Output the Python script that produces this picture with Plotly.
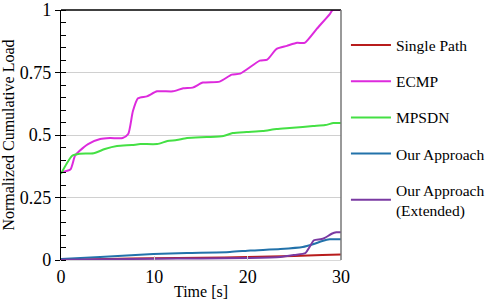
import plotly.graph_objects as go

# Data
single_t = [0, 5, 10, 15, 20, 25, 28, 30]
single_v = [0.0, 0.004, 0.007, 0.009, 0.012, 0.016, 0.02, 0.022]

ecmp_t = [0, 1.0, 1.5, 2.0, 2.9, 4.2, 5.25, 6.6, 7.2, 7.7, 8.25, 9.2, 10.3, 12.0, 13.1, 14.1, 15.2, 17.0,
          18.3, 19.2, 21.3, 22.1, 23.1, 24.2, 25.3, 26.1, 27.4, 28.8, 29.1, 30]
ecmp_v = [0.352, 0.362, 0.417, 0.437, 0.464, 0.484, 0.488, 0.488, 0.504, 0.595, 0.647, 0.655, 0.675, 0.675,
          0.687, 0.69, 0.71, 0.714, 0.742, 0.746, 0.798, 0.802, 0.845, 0.857, 0.869, 0.869, 0.925, 0.984, 1.0, 1.0]

mpsdn_t = [0, 0.6, 1.2, 2.0, 3.5, 4.7, 6.0, 7.6, 8.5, 10.3, 11.4, 12.4, 13.5, 15.6, 17.4, 18.4, 19.9, 21.6,
           23.1, 24.5, 25.9, 27.0, 28.3, 29.2, 30]
mpsdn_v = [0.345, 0.385, 0.417, 0.425, 0.427, 0.444, 0.456, 0.46, 0.464, 0.464, 0.476, 0.48, 0.488, 0.492,
           0.496, 0.508, 0.512, 0.516, 0.524, 0.528, 0.532, 0.536, 0.54, 0.548, 0.548]

ours_t = [0, 4.2, 9.9, 13.5, 18.1, 20.3, 23.5, 25.9, 27.0, 28.0, 28.8, 30]
ours_v = [0.004, 0.012, 0.024, 0.028, 0.032, 0.038, 0.044, 0.052, 0.063, 0.076, 0.083, 0.083]

ext_t = [0, 5, 10, 15, 20, 23.5, 25, 26.2, 26.6, 27.1, 27.8, 28.2, 29.0, 29.5, 30]
ext_v = [0.001, 0.003, 0.005, 0.006, 0.008, 0.012, 0.02, 0.028, 0.05, 0.079, 0.083, 0.087, 0.105, 0.111, 0.111]

y_tickvals = [0, 0.25, 0.5, 0.75, 1]
y_ticktext = ["0", "0.25", "0.5", "0.75", "1"]

series = [
    ("Single Path", single_t, single_v, "#B81C1C"),
    ("ECMP", ecmp_t, ecmp_v, "#DD2ADD"),
    ("MPSDN", mpsdn_t, mpsdn_v, "#44E044"),
    ("Our Approach", ours_t, ours_v, "#2272AA"),
    ("Our Approach<br>(Extended)", ext_t, ext_v, "#7A3AA2"),
]

FONT = "Liberation Serif, 'Times New Roman', Times, serif"

fig = go.Figure()
for i, (name, t, v, c) in enumerate(series):
    fig.add_trace(go.Scatter(x=t, y=v, mode="lines", name=name, legendgroup=f"g{i}",
                             line=dict(color=c, width=2, shape="spline", smoothing=0.6)))

fig.update_layout(
    width=490, height=300,
    margin=dict(l=61, r=149, t=10, b=40),
    paper_bgcolor="white", plot_bgcolor="white",
    font=dict(family=FONT, size=16, color="black"),
    showlegend=True,
    legend=dict(xref="container", yref="container", x=0.706, y=0.905,
                xanchor="left", yanchor="top", maxheight=280,
                font=dict(family=FONT, size=15.5, color="black"),
                tracegroupgap=13, itemwidth=40, bgcolor="rgba(0,0,0,0)"),
    xaxis=dict(range=[0, 30], dtick=10, showgrid=False, zeroline=False, automargin=False,
               showline=True, linecolor="#d8d8d8", linewidth=1, mirror=False,
               ticks="inside", ticklen=4, tickcolor="#d0d0d0", ticklabeloverflow="allow",
               title=dict(text="Time [s]", font=dict(family=FONT, size=16), standoff=2),
               tickfont=dict(family=FONT, size=18)),
    yaxis=dict(range=[0, 1.0005], tickvals=y_tickvals, ticktext=y_ticktext, automargin=False,
               showgrid=True, gridcolor="#d0d0d0", gridwidth=1, zeroline=False,
               showline=True, linecolor="black", linewidth=1.3,
               ticks="outside", ticklen=5, tickcolor="black", ticklabeloverflow="allow",
               minor=dict(dtick=0.05, tick0=0, ticks="inside", ticklen=5, tickcolor="black", showgrid=False),
               title=dict(text="Normalized Cumulative Load", font=dict(family=FONT, size=16), standoff=4),
               tickfont=dict(family=FONT, size=18)),
)

# plot border: top black, right gray
fig.add_shape(type="line", xref="paper", yref="paper", x0=0, x1=1, y0=1, y1=1,
              line=dict(color="black", width=1.5))
fig.add_shape(type="line", xref="paper", yref="paper", x0=1, x1=1, y0=0, y1=1,
              line=dict(color="#777777", width=1.5))

fig.write_html("out.html")
